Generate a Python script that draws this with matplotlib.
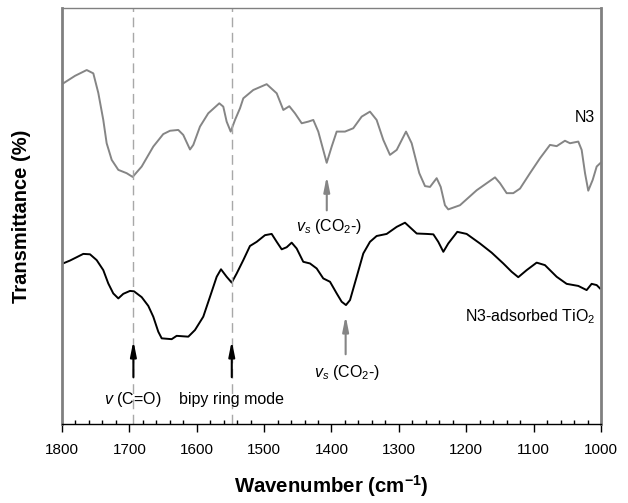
import matplotlib
matplotlib.use('Agg')
import matplotlib.pyplot as plt
from matplotlib.ticker import MultipleLocator

plt.rcParams['font.family'] = ['Liberation Sans', 'DejaVu Sans']
plt.rcParams['mathtext.fontset'] = 'custom'
plt.rcParams['mathtext.rm'] = 'Liberation Sans'
plt.rcParams['mathtext.it'] = 'Liberation Sans:italic'
plt.rcParams['mathtext.bf'] = 'Liberation Sans:bold'

# N3 dye spectrum (wavenumber cm-1, transmittance arb. units)
n3_wn = [1800, 1780.7, 1763.3, 1753.5, 1746.1, 1738.7, 1733.7, 1726.2, 1716.4, 1704.0,
         1695.1, 1681.7, 1664.5, 1649.7, 1639.7, 1627.4, 1620.0, 1610.0, 1605.1, 1595.2,
         1582.9, 1566.5, 1560.6, 1555.6, 1549.6, 1543.2, 1535.8, 1530.9, 1516.1, 1496.2,
         1481.3, 1471.5, 1462.6, 1454.2, 1444.2, 1434.4, 1427.0, 1419.6, 1407.1, 1399.7,
         1392.3, 1380.0, 1367.7, 1355.2, 1342.9, 1333.0, 1323.1, 1313.2, 1303.2, 1289.4,
         1281.0, 1269.7, 1261.2, 1253.8, 1243.9, 1237.9, 1231.6, 1226.7, 1209.3, 1184.5,
         1157.3, 1149.9, 1140.0, 1130.2, 1120.2, 1105.4, 1090.5, 1075.7, 1065.8, 1053.5,
         1046.0, 1033.7, 1028.7, 1023.7, 1018.9, 1012.3, 1006.4, 1000.5]
n3_t = [81.7, 83.7, 85.1, 84.3, 79.6, 73.1, 67.5, 63.5, 61.1, 60.3,
        59.4, 61.9, 66.7, 69.7, 70.5, 70.7, 69.5, 66.0, 67.1, 71.5,
        74.7, 77.1, 76.3, 72.7, 70.3, 73.1, 75.9, 78.3, 80.3, 81.7,
        79.5, 75.5, 76.4, 74.7, 72.3, 72.7, 73.1, 70.3, 62.8, 66.7,
        70.3, 70.3, 71.1, 73.9, 75.1, 73.1, 68.3, 64.7, 65.9, 70.3,
        67.5, 60.3, 57.2, 57.0, 59.1, 57.0, 52.6, 51.6, 52.6, 56.2,
        59.3, 57.9, 55.5, 55.5, 56.6, 60.3, 63.9, 67.1, 66.8, 68.1,
        67.5, 67.9, 65.9, 60.3, 56.1, 58.7, 61.9, 62.8]

# N3 adsorbed on TiO2
ti_wn = [1800, 1788.1, 1778.2, 1768.4, 1758.4, 1748.5, 1738.7, 1731.3, 1723.9, 1716.4,
         1709.0, 1699.1, 1693.1, 1681.7, 1671.9, 1664.5, 1657.1, 1652.0, 1637.2, 1629.8,
         1612.5, 1602.6, 1590.3, 1580.3, 1570.4, 1564.0, 1555.6, 1548.1, 1540.7, 1530.9,
         1521.0, 1511.0, 1498.7, 1488.8, 1481.3, 1473.9, 1466.5, 1459.1, 1451.7, 1441.9,
         1431.9, 1422.0, 1412.2, 1402.2, 1392.3, 1384.9, 1378.5, 1372.5, 1362.6, 1352.8,
         1342.9, 1333.0, 1318.1, 1303.2, 1290.9, 1273.5, 1258.7, 1248.8, 1241.5, 1234.0,
         1226.7, 1213.3, 1199.4, 1179.6, 1162.3, 1145.0, 1132.6, 1122.8, 1110.3, 1095.5,
         1083.2, 1065.8, 1051.0, 1033.7, 1021.3, 1013.9, 1006.4, 1001.5]
ti_t = [38.5, 39.3, 40.1, 40.9, 40.8, 39.4, 37.0, 33.8, 31.4, 30.2,
        31.3, 32.0, 31.9, 30.5, 28.4, 25.8, 22.2, 20.6, 20.4, 21.2,
        21.0, 22.6, 25.8, 30.6, 35.4, 37.2, 35.4, 34.0, 36.2, 39.4,
        42.8, 43.8, 45.4, 45.7, 43.8, 42.0, 42.5, 43.6, 42.2, 39.0,
        38.6, 37.4, 35.0, 34.2, 31.4, 29.4, 28.6, 29.8, 35.4, 41.0,
        43.8, 45.2, 45.7, 47.4, 48.4, 45.8, 45.7, 45.6, 43.8, 41.4,
        43.4, 46.2, 45.7, 43.4, 41.2, 38.6, 36.6, 35.3, 37.0, 38.8,
        38.2, 35.4, 33.7, 33.2, 32.2, 33.7, 33.4, 32.6]

# band positions marked with dashed lines
band_lines = [1694, 1548]

fig = plt.figure(figsize=(6.28, 5.03), dpi=100)
ax = fig.add_axes([0.0987, 0.157, 0.8583, 0.827])

ax.plot(n3_wn, n3_t, color='#858585', lw=1.4)
ax.plot(ti_wn, ti_t, color='black', lw=1.4)

for b in band_lines:
    ax.axvline(b, color='#a8a8a8', lw=1.0, ls=(0, (7, 4)))

ax.set_xlim(1800, 1000)
ax.set_ylim(0, 100)

# arrows
black_arrow = dict(arrowstyle='-|>,head_length=0.9,head_width=0.18', color='black', lw=1.5)
gray_arrow = dict(arrowstyle='-|>,head_length=0.9,head_width=0.18', color='#858585', lw=1.5)
ax.annotate('', xy=(1694, 20.7), xytext=(1694, 10.6), arrowprops=black_arrow)
ax.annotate('', xy=(1548, 20.7), xytext=(1548, 10.6), arrowprops=black_arrow)
ax.annotate('', xy=(1407, 60.3), xytext=(1407, 50.7), arrowprops=gray_arrow)
ax.annotate('', xy=(1379, 26.7), xytext=(1379, 16.1), arrowprops=gray_arrow)

fs = 11.5
ax.text(1694.5, 5.8, r'$v$ (C=O)', ha='center', va='center', fontsize=fs)
ax.text(1547.7, 5.8, 'bipy ring mode', ha='center', va='center', fontsize=fs)
ax.text(1403.7, 47.4, r'$v_s$ (CO$_2$-)', ha='center', va='center', fontsize=fs)
ax.text(1377, 12.5, r'$v_s$ (CO$_2$-)', ha='center', va='center', fontsize=fs)
ax.text(1008.9, 73.8, 'N3', ha='right', va='center', fontsize=fs)
ax.text(1007.4, 25.7, r'N3-adsorbed TiO$_2$', ha='right', va='center', fontsize=fs)

# axes styling
ax.xaxis.set_major_locator(MultipleLocator(100))
ax.xaxis.set_minor_locator(MultipleLocator(20))
ax.tick_params(axis='x', which='major', direction='out', length=6, width=1, labelsize=11, pad=8)
ax.tick_params(axis='x', which='minor', direction='in', length=3, width=1)
ax.tick_params(axis='y', left=False, labelleft=False)
ax.spines['bottom'].set_color('black')
ax.spines['bottom'].set_linewidth(1.0)
for s in ['left', 'top', 'right']:
    ax.spines[s].set_color('#808080')
ax.spines['left'].set_linewidth(2.0)
ax.spines['right'].set_linewidth(2.0)
ax.spines['top'].set_linewidth(1.0)

ax.set_xlabel(r'Wavenumber (cm$^{\mathbf{-1}}$)', fontsize=14.7, fontweight='bold', labelpad=11)
ax.set_ylabel('Transmittance (%)', fontsize=14.5, fontweight='bold', labelpad=22)

fig.savefig('out.png', dpi=100)
